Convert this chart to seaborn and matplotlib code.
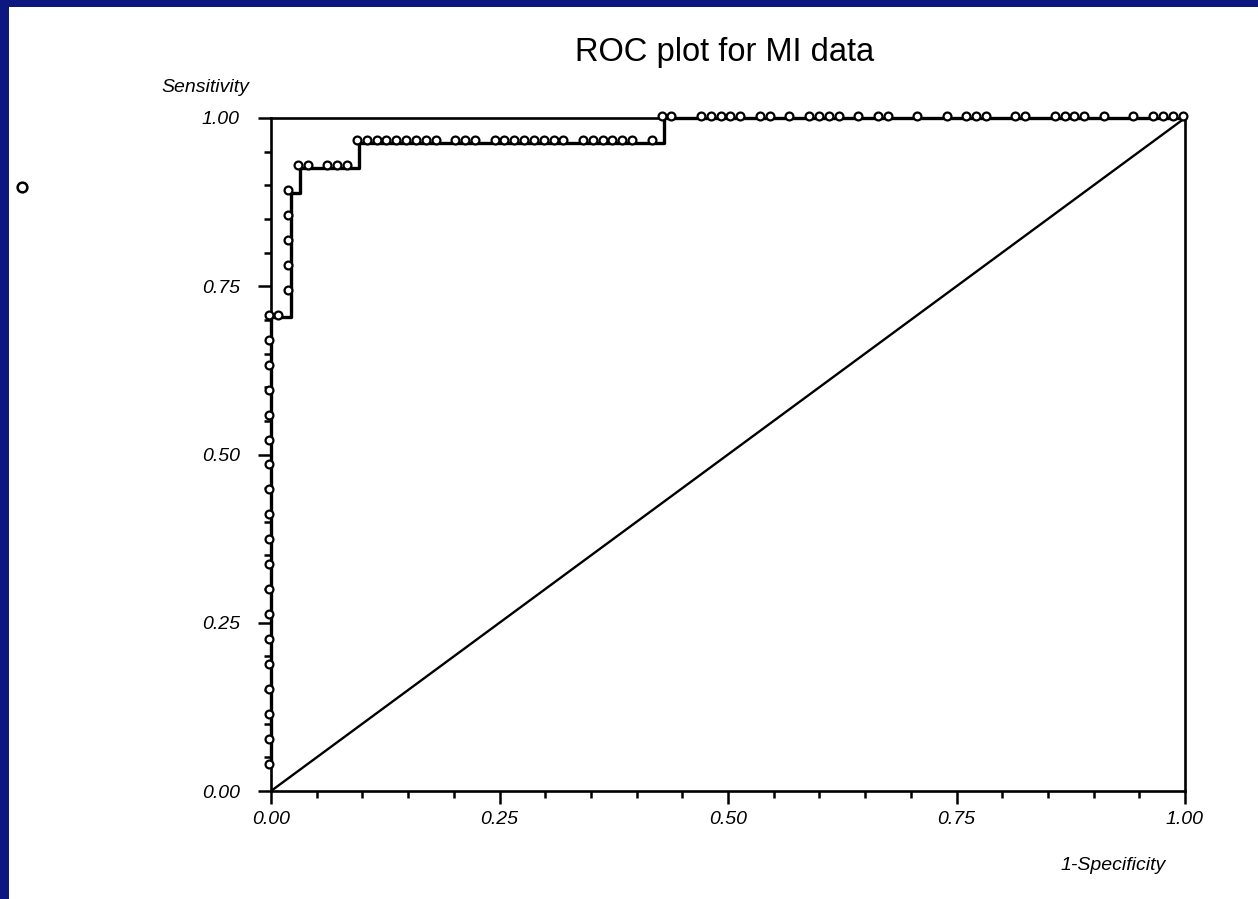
import numpy as np
import pandas as pd
import matplotlib
matplotlib.use("Agg")
import matplotlib.pyplot as plt
from matplotlib.patches import Rectangle
from matplotlib.lines import Line2D
from matplotlib.ticker import MultipleLocator
from matplotlib.transforms import ScaledTranslation
import seaborn as sns

# ROC points: counts of false / true positives
n_neg = 93
n_pos = 27

fp_count = [0, 0, 0, 0, 0, 0, 0, 0, 0, 0, 0, 0, 0, 0, 0, 0, 0, 0, 0,
            1,
            2, 2, 2, 2, 2,
            3, 4, 6, 7, 8,
            9, 10, 11, 12, 13, 14, 15, 16, 17, 19, 20, 21, 23, 24, 25, 26, 27,
            28, 29, 30, 32, 33, 34, 35, 36, 37, 39,
            40, 41, 44, 45, 46, 47, 48, 50, 51, 53, 55, 56, 57, 58, 60, 62, 63,
            66, 69, 71, 72, 73, 76, 77, 80, 81, 82, 83, 85, 88, 90, 91, 92, 93]

tp_count = [1, 2, 3, 4, 5, 6, 7, 8, 9, 10, 11, 12, 13, 14, 15, 16, 17, 18, 19,
            19,
            20, 21, 22, 23, 24,
            25, 25, 25, 25, 25,
            26, 26, 26, 26, 26, 26, 26, 26, 26, 26, 26, 26, 26, 26, 26, 26, 26,
            26, 26, 26, 26, 26, 26, 26, 26, 26, 26,
            27, 27, 27, 27, 27, 27, 27, 27, 27, 27, 27, 27, 27, 27, 27, 27, 27,
            27, 27, 27, 27, 27, 27, 27, 27, 27, 27, 27, 27, 27, 27, 27, 27, 27]

diag_x = [0.0, 1.0]
diag_y = [0.0, 1.0]

tick_major = [0.0, 0.25, 0.5, 0.75, 1.0]
tick_labels = ["0.00", "0.25", "0.50", "0.75", "1.00"]

df = pd.DataFrame({"fpr": np.array(fp_count) / n_neg,
                   "tpr": np.array(tp_count) / n_pos})

sns.set_style("ticks")
plt.rcParams["font.family"] = ["Liberation Sans", "DejaVu Sans"]
plt.rcParams["text.color"] = "black"
plt.rcParams["xtick.color"] = "black"
plt.rcParams["ytick.color"] = "black"

W, H = 1258, 899
fig = plt.figure(figsize=(W / 100, H / 100), dpi=100, facecolor="#0c1780")
# white slide panel inside the blue border
fig.patches.append(Rectangle((9 / W, 0), 1, 1 - 7 / H, transform=fig.transFigure,
                             facecolor="white", edgecolor="none", zorder=-1))

ax = fig.add_axes([271 / W, 108 / H, 914 / W, 673 / H])

sns.lineplot(x=diag_x, y=diag_y, color="black", linewidth=1.7, ax=ax, zorder=2)
sns.lineplot(data=df, x="fpr", y="tpr", sort=False, estimator=None,
             drawstyle="steps-post", color="black", linewidth=2.4, ax=ax,
             zorder=3, clip_on=False)

# markers sit a little up/left of the step line, as in the original
shift = ScaledTranslation(-2.5 / 100, 2.5 / 100, fig.dpi_scale_trans)
sns.scatterplot(data=df, x="fpr", y="tpr", marker="o", s=32,
                facecolor="white", edgecolor="black", linewidth=1.6,
                ax=ax, zorder=4, clip_on=False, transform=ax.transData + shift)

ax.set_xlim(0, 1)
ax.set_ylim(0, 1)
ax.set_xticks(tick_major)
ax.set_xticklabels(tick_labels)
ax.set_yticks(tick_major)
ax.set_yticklabels(tick_labels)
ax.xaxis.set_minor_locator(MultipleLocator(0.05))
ax.yaxis.set_minor_locator(MultipleLocator(0.05))
ax.tick_params(which="major", length=9.5, width=1.8, direction="out",
               labelsize=14, labelcolor="black")
ax.tick_params(axis="x", which="major", pad=5)
ax.tick_params(axis="y", which="major", pad=13)
ax.tick_params(which="minor", length=5, width=1.8, direction="out")
for lbl in ax.get_xticklabels() + ax.get_yticklabels():
    lbl.set_fontstyle("italic")
for sp in ax.spines.values():
    sp.set_visible(True)
    sp.set_linewidth(1.9)
    sp.set_color("black")
ax.set_xlabel("")
ax.set_ylabel("")

fig.text(725 / W, 1 - 53 / H, "ROC plot for MI data", ha="center", va="center",
         fontsize=23.5)
fig.text(205 / W, 1 - 87 / H, "Sensitivity", ha="center", va="center",
         fontsize=14, style="italic")
fig.text(1113 / W, 1 - 865 / H, "1-Specificity", ha="center", va="center",
         fontsize=14, style="italic")

# stray marker at the left of the slide
fig.add_artist(Line2D([22 / W], [1 - 187 / H], marker="o", markersize=7,
                      markerfacecolor="white", markeredgecolor="black",
                      markeredgewidth=1.8, transform=fig.transFigure))

fig.savefig("out.png", dpi=100, facecolor=fig.get_facecolor())
